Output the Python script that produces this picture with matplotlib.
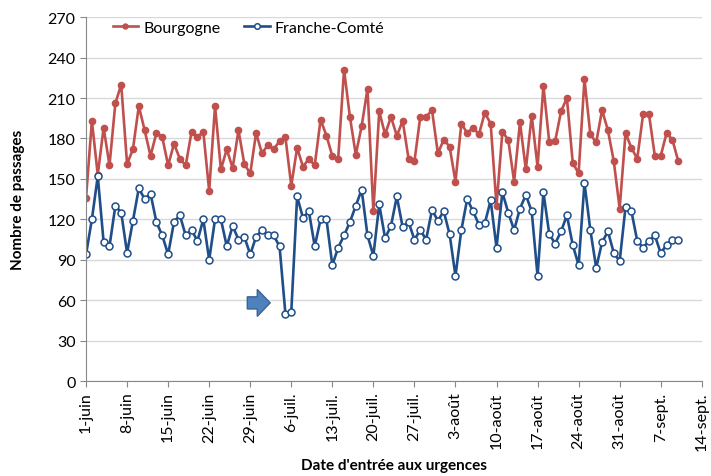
import matplotlib.pyplot as plt
import matplotlib.patches as mpatches
import numpy as np

plt.rcParams['font.family'] = ['Lato', 'DejaVu Sans']

# daily counts, 1 June to 10 Sept
bourgogne = [136, 193, 153, 188, 160, 206, 220, 161, 172, 204, 186, 167, 184, 181,
             160, 176, 165, 160, 185, 181, 185, 141, 204, 157, 172, 158, 186, 161,
             154, 184, 169, 175, 172, 178, 181, 145, 173, 159, 165, 160, 194, 182,
             167, 165, 231, 196, 168, 189, 217, 126, 200, 183, 196, 182, 193, 165,
             163, 196, 196, 201, 169, 179, 174, 148, 191, 184, 188, 183, 199, 191,
             130, 185, 179, 148, 192, 157, 197, 159, 219, 177, 178, 200, 210, 162,
             154, 224, 183, 177, 201, 186, 163, 128, 184, 173, 165, 198, 198, 167,
             167, 184, 179, 163]
franche_comte = [94, 120, 152, 103, 100, 130, 125, 95, 119, 143, 135, 139, 118, 108,
                 94, 118, 123, 108, 112, 104, 120, 90, 120, 120, 100, 115, 105, 107,
                 94, 107, 112, 108, 108, 100, 50, 51, 137, 121, 126, 100, 120, 120,
                 86, 99, 108, 118, 130, 142, 108, 93, 131, 106, 115, 137, 114, 118,
                 105, 112, 105, 127, 119, 126, 109, 78, 112, 135, 126, 116, 117, 134,
                 99, 140, 125, 112, 128, 138, 126, 78, 140, 109, 102, 111, 123, 101,
                 86, 147, 112, 84, 103, 111, 95, 89, 129, 126, 104, 99, 104, 108,
                 95, 101, 105, 105]
days = np.arange(len(bourgogne))

tick_labels = ['1-juin', '8-juin', '15-juin', '22-juin', '29-juin', '6-juil.',
               '13-juil.', '20-juil.', '27-juil.', '3-août', '10-août', '17-août',
               '24-août', '31-août', '7-sept.', '14-sept.']

red = '#C0504D'
blue = '#1F4E89'

fig = plt.figure(figsize=(7.11, 4.77), dpi=100)
ax = fig.add_axes([0.121, 0.199, 0.866, 0.763])

ax.plot(days, bourgogne, color=red, lw=1.9, marker='o', ms=4.5,
        mfc=red, mec=red, label='Bourgogne')
ax.plot(days, franche_comte, color=blue, lw=1.9, marker='o', ms=5,
        mfc='white', mec=blue, mew=1.1, label='Franche-Comté')

# block arrow pointing at the early July dip
arrow = mpatches.FancyArrow(27.5, 58, 1.7, 0, width=9, head_width=20,
                            head_length=2.2, length_includes_head=False,
                            fc='#4F81BD', ec='#3A6399', lw=1)
ax.add_patch(arrow)

ax.set_ylim(0, 270)
ax.set_yticks(range(0, 271, 30))
ax.set_xlim(0, 105)
ax.set_xticks(np.arange(0, 106, 7))
ax.set_xticklabels(tick_labels, rotation=90, fontsize=11.5)
ax.tick_params(axis='y', labelsize=11.5, length=4, color='#888888')
ax.tick_params(axis='x', length=4, color='#888888')

ax.grid(axis='y', color='#d9d9d9', lw=1)
ax.set_axisbelow(True)
for s in ['top', 'right']:
    ax.spines[s].set_visible(False)
ax.spines['left'].set_color('#888888')
ax.spines['bottom'].set_color('#888888')

ax.set_ylabel('Nombre de passages', fontsize=11, fontweight='bold', labelpad=16)
ax.set_xlabel("Date d'entrée aux urgences", fontsize=11, fontweight='bold', labelpad=6)

ax.legend(loc='upper left', bbox_to_anchor=(0.02, 1.03), ncol=2, frameon=False,
          fontsize=11.5, handlelength=1.6, columnspacing=1.5, handletextpad=0.3,
          markerscale=0.8)

fig.savefig('out.png', dpi=100)
